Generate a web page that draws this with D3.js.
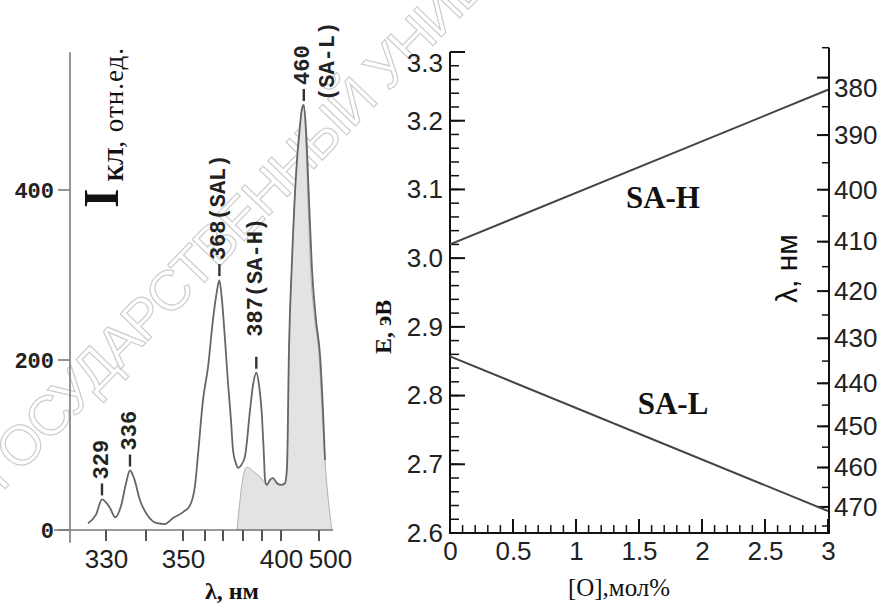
<!DOCTYPE html>
<html>
<head>
<meta charset="utf-8">
<script src="https://cdn.jsdelivr.net/npm/d3@7/dist/d3.min.js"></script>
<style>
  html, body { margin: 0; padding: 0; background: #fff; }
  svg { display: block; }
</style>
</head>
<body>
<svg id="chart" width="882" height="604"></svg>
<script>
// ---------- CL spectrum (left panel): [wavelength nm, intensity a.u.] ----------
const spectrum = [
  [325.5, 8], [327.5, 18], [329, 36], [331, 26], [332.3, 15], [333.8, 29], [335, 55],
  [336, 70], [337, 61], [338.5, 35], [340.3, 18], [343, 8], [345.1, 7], [347.3, 14],
  [350, 21], [353.2, 29], [355.5, 53], [356.8, 88], [359.1, 153], [361.7, 192],
  [364.4, 247], [366.7, 282], [368, 294], [369.4, 271], [371, 224], [372.5, 173],
  [374, 129], [375, 94], [376.5, 78], [377.5, 73], [379, 76], [381, 86], [383.7, 141],
  [385.3, 171], [387, 185], [388.4, 171], [390, 133], [391, 88], [391.6, 59],
  [392.6, 53], [394.2, 59], [395.8, 61], [397.9, 55], [400, 53], [410.5, 55],
  [415.8, 74], [421, 212], [429, 318], [439.5, 418], [450, 476], [455.3, 496],
  [460, 500], [465.8, 471], [473.7, 388], [481.6, 306], [492.1, 247], [502.6, 206],
  [510.5, 141], [515.8, 82]
];
// shaded SA-L emission band
const slBand = [
  [377, 0], [378.5, 35], [380, 62], [382, 74], [386, 68], [390, 60], [392.6, 53],
  [394.2, 59], [395.8, 61], [397.9, 55], [400, 53], [410.5, 55], [415.8, 74],
  [421, 212], [429, 318], [439.5, 418], [450, 476], [455.3, 496], [460, 500],
  [465, 462], [471, 385], [478, 306], [489, 247], [500, 206], [508, 141],
  [515.8, 82], [534, 0]
];
const peakLabels = [
  { lambda: 329, value: 36,  lines: ["329"] },
  { lambda: 336, value: 70,  lines: ["336"] },
  { lambda: 368, value: 294, lines: ["368(SAL)"] },
  { lambda: 387, value: 185, lines: ["387(SA-H)"] },
  { lambda: 460, value: 500, lines: ["460", "(SA-L)"] }
];
const lambdaTicks = [330, 340, 350, 360, 370, 380, 390, 400, 500];
const lambdaTickLabels = [330, 350, 400, 500];
const intensityTicks = [0, 200, 400];

// ---------- band energies vs oxygen content (right panel) ----------
const oxygen = [0, 3];
const energySAH = [3.02, 3.245];
const energySAL = [2.857, 2.632];
const oxygenTicks = [0, 0.5, 1, 1.5, 2, 2.5, 3];
const energyTicks = [2.6, 2.7, 2.8, 2.9, 3.0, 3.1, 3.2, 3.3];
const wavelengthTicks = [380, 390, 400, 410, 420, 430, 440, 450, 460, 470];
const HC = 1239.84; // eV*nm, E = HC / lambda

const svg = d3.select("#chart");
svg.append("rect").attr("width", 882).attr("height", 604).attr("fill", "#fff");

// outlined watermark text
svg.append("text")
  .attr("transform", "translate(2,492) rotate(-46)")
  .attr("fill", "none").attr("stroke", "#cdcdcd").attr("stroke-width", 1.2)
  .style("font-family", "'Liberation Sans', sans-serif").style("font-size", "56px")
  .style("letter-spacing", "-2px")
  .text("ГОСУДАРСТВЕННЫЙ УНИВЕРСИТЕТ");

// comb of tick marks built from a scale as filled thin rectangles; dir = where the marks point
function tickMarks(g, values, scale, axisPos, dir, len, color, width) {
  const vertical = dir === "left" || dir === "right";
  const start = (dir === "right" || dir === "down") ? axisPos : axisPos - len;
  g.append("g").selectAll("rect").data(values).join("rect")
    .attr("x", d => vertical ? start : scale(d) - width / 2)
    .attr("y", d => vertical ? scale(d) - width / 2 : start)
    .attr("width", vertical ? len : width)
    .attr("height", vertical ? width : len)
    .attr("fill", color);
}

// ================= left panel =================
const xL = d3.scaleLinear().domain(lambdaTicks)
  .range([106, 146, 183, 205, 223, 243, 262, 281, 319]);
const yL = d3.scaleLinear().domain([0, 400]).range([530, 190]);
const leftAxisColor = "#7a7a7a";
const left = svg.append("g");

left.append("path").datum(slBand)
  .attr("d", d3.area().x(d => xL(d[0])).y0(yL(0)).y1(d => yL(d[1])).curve(d3.curveMonotoneX))
  .attr("fill", "#e3e3e3").attr("stroke", "#b0b0b0").attr("stroke-width", 1);

left.append("path").datum(spectrum)
  .attr("d", d3.line().x(d => xL(d[0])).y(d => yL(d[1])).curve(d3.curveMonotoneX))
  .attr("fill", "none").attr("stroke", "#666").attr("stroke-width", 1.8);

// axis lines (crossing at the origin)
const xAxisL = xL(321);
left.append("line")
  .attr("x1", xAxisL).attr("x2", xAxisL).attr("y1", yL(-15)).attr("y2", yL(562))
  .attr("stroke", leftAxisColor).attr("stroke-width", 1.6);
left.append("line")
  .attr("x1", xL(317)).attr("x2", xL(537)).attr("y1", yL(0)).attr("y2", yL(0))
  .attr("stroke", leftAxisColor).attr("stroke-width", 1.6);
tickMarks(left, intensityTicks, yL, xAxisL, "left", 12, leftAxisColor, 1.6);
tickMarks(left, lambdaTicks, xL, yL(0), "down", 11, "#555", 2);

const gyL = left.append("g").attr("transform", `translate(${xAxisL},0)`)
  .call(d3.axisLeft(yL).tickValues(intensityTicks).tickSize(0).tickPadding(16));
gyL.select(".domain").remove();
gyL.selectAll(".tick text").attr("fill", "#222")
  .style("font-family", "'Liberation Mono', monospace").style("font-weight", "bold").style("font-size", "22px");

const gxL = left.append("g").attr("transform", `translate(0,${yL(0)})`)
  .call(d3.axisBottom(xL).tickValues(lambdaTickLabels).tickSize(0).tickPadding(20));
gxL.select(".domain").remove();
gxL.selectAll(".tick text").attr("fill", "#222")
  .style("font-family", "'Liberation Sans', sans-serif").style("font-size", "26px");
gxL.selectAll(".tick text").filter(d => d === 500).attr("dx", 11);

// peak annotations
const peakFont = t => t.attr("fill", "#222")
  .style("font-family", "'Liberation Mono', monospace").style("font-weight", "bold").style("font-size", "22px");
peakLabels.forEach(p => {
  const px = xL(p.lambda), py = yL(p.value);
  const gap = p.lambda === 387 ? 16 : 0;
  left.append("line").attr("x1", px).attr("x2", px).attr("y1", py - 4).attr("y2", py - 16)
    .attr("stroke", "#333").attr("stroke-width", 2.4);
  left.append("text")
    .attr("transform", `translate(${px},${py - 20 - gap}) rotate(-90)`)
    .attr("dominant-baseline", "central").text(p.lines[0]).call(peakFont);
  if (p.lines[1]) {
    left.append("text")
      .attr("transform", `translate(${px + 25},${py - 4}) rotate(-90)`)
      .attr("dominant-baseline", "central").text(p.lines[1]).call(peakFont);
  }
});

// axis titles
const yTitle = left.append("text")
  .attr("transform", "translate(118,208) rotate(-90)")
  .attr("fill", "#111").style("font-family", "'Liberation Serif', serif");
yTitle.append("tspan").style("font-size", "50px").style("font-weight", "bold").text("I");
yTitle.append("tspan").attr("dx", 7).attr("dy", 5).style("font-size", "23px").style("font-weight", "bold").text("КЛ");
yTitle.append("tspan").style("font-size", "27px").style("letter-spacing", "1px").text(", отн.ед.");

left.append("text").attr("x", 205).attr("y", 599).attr("fill", "#111")
  .style("font-family", "'Liberation Serif', serif").style("font-size", "24px").style("font-weight", "bold")
  .text("λ, нм");

// ================= right panel =================
const xR = d3.scaleLinear().domain([0, 3]).range([450, 828]);
const yR = d3.scaleLinear().domain([2.6, 3.3]).range([533, 52]);
const yW = d3.scalePow().exponent(-1).domain([HC / 2.6, HC / 3.3]).range([533, 52]);
const right = svg.append("g");
const ink = "#111";
const tickFont = sel => sel.selectAll(".tick text").attr("fill", "#222")
  .style("font-family", "'Liberation Sans Narrow', 'Liberation Sans', sans-serif").style("font-size", "26px");

const x0 = xR(0), x3 = xR(3) + 1, yBase = yR(2.6);

// frame lines: energy axis, oxygen axis, wavelength axis
right.append("line").attr("x1", x0).attr("x2", x0).attr("y1", yR(3.3)).attr("y2", yBase + 1)
  .attr("stroke", ink).attr("stroke-width", 2);
right.append("line").attr("x1", x0).attr("x2", x3).attr("y1", yBase).attr("y2", yBase)
  .attr("stroke", ink).attr("stroke-width", 2);
right.append("line").attr("x1", x3).attr("x2", x3).attr("y1", yW(375)).attr("y2", yBase + 1)
  .attr("stroke", ink).attr("stroke-width", 2);

// energy ticks (pointing inward)
tickMarks(right, d3.range(130, 166).map(i => i / 50), yR, x0, "right", 9, ink, 1.5);
tickMarks(right, energyTicks, yR, x0, "right", 15, ink, 2);
const gyR = right.append("g").attr("transform", `translate(${x0},0)`)
  .call(d3.axisLeft(yR).tickValues(energyTicks).tickSize(0).tickPadding(7).tickFormat(d3.format(".1f")));
gyR.select(".domain").remove();
gyR.call(tickFont);
gyR.selectAll(".tick text").filter(d => d === 3.3).attr("dy", "0.75em");

// oxygen ticks
tickMarks(right, d3.range(0, 31).map(i => i / 10), xR, yBase, "up", 8, ink, 1.5);
tickMarks(right, oxygenTicks, xR, yBase, "up", 14, ink, 2);
const gxR = right.append("g").attr("transform", `translate(0,${yBase})`)
  .call(d3.axisBottom(xR).tickValues(oxygenTicks).tickSize(0).tickPadding(9).tickFormat(d => String(d)));
gxR.select(".domain").remove();
gxR.call(tickFont);

// wavelength ticks
tickMarks(right, d3.range(75, 96).map(i => i * 5), yW, x3, "left", 7, ink, 1.5);
tickMarks(right, wavelengthTicks, yW, x3, "left", 12, ink, 2);
const gwR = right.append("g").attr("transform", `translate(${x3},0)`)
  .call(d3.axisRight(yW).tickValues(wavelengthTicks).tickSize(0).tickPadding(5).tickFormat(d3.format("d")));
gwR.select(".domain").remove();
gwR.call(tickFont);
gwR.selectAll(".tick text").filter(d => d === 380).attr("dy", "0.72em");

// SA-H and SA-L energy lines
const lineR = d3.line().x(d => xR(d[0])).y(d => yR(d[1]));
[energySAH, energySAL].forEach(e => {
  right.append("path").datum(oxygen.map((c, i) => [c, e[i]]))
    .attr("d", lineR).attr("fill", "none").attr("stroke", "#444").attr("stroke-width", 2);
});

const bandLabel = (txt, c, e) => right.append("text")
  .attr("x", xR(c)).attr("y", yR(e)).attr("text-anchor", "middle").attr("dominant-baseline", "central")
  .attr("fill", "#111").style("font-family", "'Liberation Serif', serif").style("font-weight", "bold")
  .style("font-size", "31px").text(txt);
bandLabel("SA-H", 1.69, 3.088);
bandLabel("SA-L", 1.77, 2.789);

// axis titles
right.append("text").attr("transform", `translate(391,${yR(2.90)}) rotate(-90)`)
  .attr("text-anchor", "middle").attr("fill", "#111")
  .style("font-family", "'Liberation Serif', serif").style("font-weight", "bold").style("font-size", "24px")
  .text("E, эВ");
right.append("text").attr("transform", `translate(797,${yR(2.985)}) rotate(-90)`)
  .attr("text-anchor", "middle").attr("fill", "#111")
  .style("font-family", "'Liberation Sans', sans-serif").style("font-size", "30px")
  .text("λ, нм");
right.append("text").attr("x", 619).attr("y", 596).attr("text-anchor", "middle").attr("fill", "#111")
  .style("font-family", "'Liberation Serif', serif").style("font-size", "25px")
  .text("[O],мол%");
</script>
</body>
</html>
